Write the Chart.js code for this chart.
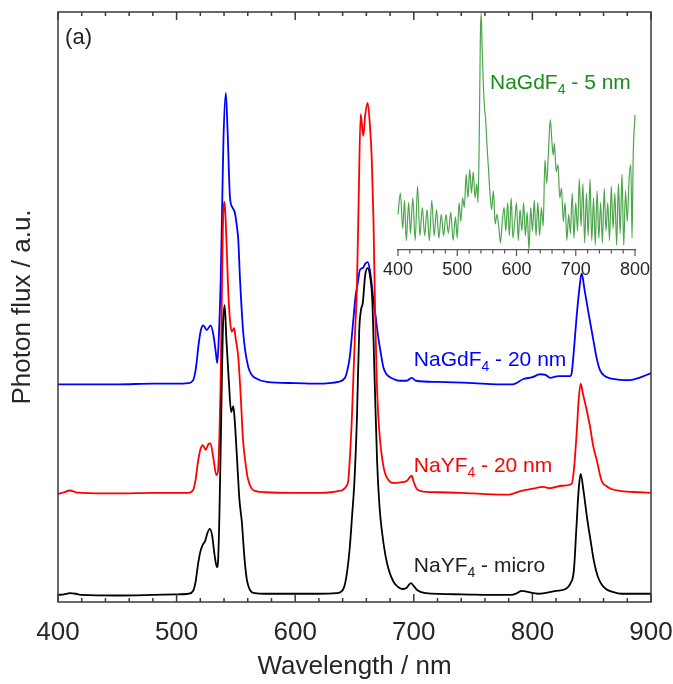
<!DOCTYPE html>
<html>
<head>
<meta charset="utf-8">
<script src="https://cdn.jsdelivr.net/npm/chart.js@4.4.0/dist/chart.umd.min.js"></script>
<style>
  html, body { margin: 0; padding: 0; background: #fff; overflow: hidden; }
  #wrap { position: relative; width: 673px; height: 684px; overflow: hidden; }
  #wrap canvas { position: absolute; left: 0; top: 0; }
</style>
</head>
<body>
<div id="wrap">
  <canvas id="spectra" width="700" height="684"></canvas>
  <canvas id="inset" width="700" height="684"></canvas>
</div>
<script>
// upconversion emission spectra, curves offset vertically
var blackNm = [400,405,410,415,420,450,480,500,510,514,516,518,520,522,524,526,528,530,532,534,535,536,537,538,539,540.5,542,544,546,547.8,549,551,553,555,557,559,562,566,575,600,620,635,640,643,646,648,650,652,654,655.5,657,659,661,663,665,667,669,671,673,676,679,683,687,691,694,697.5,700,703,710,740,770,782,787,791,796,805,820,828,832,835,837,839,840.7,843,846,849,852,855,858,862,868,875,900];
var blackFlux = [1.2,1.3,1.5,1.4,1.2,1.1,1.2,1.3,1.4,1.9,3.4,6.3,8.5,9.7,10.3,11.7,12.4,11.2,8.0,5.9,7.1,13.9,24.1,35.9,46.1,50.3,44.4,37.6,32.2,33.2,30.8,24.1,17.3,13.6,8.0,4.1,2.0,1.5,1.4,1.4,1.4,1.5,2.0,4.1,9.2,14.7,20.7,30.8,46.1,49.5,50.7,55.4,56.6,55.4,51.2,37.6,24.1,16.4,12.2,8.0,5.4,3.4,2.5,2.2,2.4,3.2,2.7,2.0,1.5,1.3,1.2,1.2,1.5,1.9,1.7,1.4,1.9,2.2,3.1,5.4,12.2,19.0,21.7,19.0,14.4,10.5,6.8,4.4,3.1,2.2,1.7,1.4,1.4];

var redNm = [400,405,410,415,420,450,480,500,510,514,516,518,520,522,524.5,527,528.5,531,533.5,535,536,537,538,539,540.5,542,543.5,545,546.5,548.4,550,552,554,556,558,560,563,567,575,600,620,630,636,640,643,644.8,646.5,647.6,649,650.5,652,653.5,655.2,657.4,659,661.1,663,664.5,666,667.3,668.7,670,671.5,673.5,675.5,678.5,682,685.6,690,694,696,698.2,700,702.4,706,720,740,760,780,790,800,809,815,825,833,835,837.3,839,840.7,842.5,845.8,848.6,851.4,854.2,858.4,862,866,875,890,900];
var redFlux = [18.3,18.6,18.9,18.6,18.5,18.4,18.5,18.5,18.5,19.0,20.7,23.7,25.8,26.6,25.8,26.8,26.9,24.4,21.5,22.4,27.5,35.9,49.5,63.1,67.8,61.4,52.9,47.8,45.8,46.4,44.4,41.5,35.1,27.5,23.7,21.0,19.3,18.8,18.6,18.5,18.5,18.6,18.8,19.0,19.6,20.7,25.8,30.3,37.8,45.9,53.0,68.0,82.7,79.0,82.5,84.6,80.8,75.4,64.7,50.0,38.0,31.7,27.5,24.1,22.0,20.7,20.2,20.2,20.3,20.5,21.0,21.4,20.3,19.2,18.8,18.6,18.5,18.3,18.2,18.8,19.2,19.5,19.3,19.7,20.0,22.4,28.6,34.2,37.0,35.4,32.5,29.7,26.3,24.1,20.5,19.7,19.2,18.8,18.6,18.5];

var blueNm = [400,420,450,480,500,510,514,516.4,518.5,520.5,522.5,525.4,528.7,531,533,534.3,535.5,537.2,538.5,539.5,541.5,543,545,547,549.2,551,552,553.5,556.2,558,560.5,563,566,576,600,620,629,636,642,644,646,649,651,652.5,654.6,657,659,661.1,663,664.5,665.9,668,670,672,674.3,677,680,688.4,694,698.2,702,720,750,770,783.4,792.4,800,806.4,811,815,822,831.7,833.1,835,837.3,839.5,841.5,844,847.1,851.4,854,857,861,865.4,872,882.3,890,900];
var blueFlux = [36.9,36.9,36.9,37.0,37.0,37.1,37.6,39.8,43.6,46.1,46.9,46.1,46.9,45.3,42.4,40.5,44.4,54.6,68.1,78.3,86.3,79.8,68.6,66.9,65.9,63.4,61.4,54.6,45.6,42.4,39.8,38.6,38.0,37.3,37.1,37.0,37.1,37.3,38.0,39.3,41.5,47.8,52.0,53.7,56.3,56.6,57.3,57.6,56.2,53.8,51.3,48.1,44.9,42.4,39.8,38.6,38.1,37.5,37.5,38.0,37.5,37.3,37.1,36.9,36.9,37.8,38.1,38.6,38.5,38.0,38.3,38.3,38.8,42.7,48.4,52.9,55.7,52.9,49.2,44.4,41.5,39.3,38.3,37.9,37.7,37.6,38.0,38.8];

// 5 nm particles, weak signal (inset)
var insetNm = [400,404,408,411,414,418,421,425,429,433,437,441,445,449,453,457,461,465,469,473,477,481,485,489,493,497,500,503,506,509,512,515,518,521,524,527,530,533,535,537,539,540.5,542,544,546,548,550,553,555,558,561,564,567,570,573,576,579,582,585,588,591,594,597,600,603,606,609,612,615,618,621,624,627,630,633,636,639,642,645,648,651,654,657,660,662,664,667,670,673,676,679,682,685,688,691,694,697,700,703,706,709,712,715,718,721,724,727,730,733,736,739,742,745,748,751,754,757,760,763,766,769,772,775,778,781,784,787,790,793,795,797,800];
var insetFlux = [15,24,9,21,4,20,7,22,4,27,6,18,6,17,4,21,6,17,5,15,6,15,7,16,4,14,5,20,12,22,18,32,22,34,24,33,22,28,20,45,90,100,85,70,60,55,45,33,25,17,25,11,15,10,3,12,18,8,20,6,22,5,12,20,4,17,8,20,6,16,0,18,8,21,6,20,6,18,10,38,28,42,55,45,40,45,33,36,22,26,12,20,4,15,7,24,5,20,8,30,10,28,3,24,6,30,4,22,2,25,5,20,3,26,8,20,4,27,9,24,2,28,7,32,2,25,12,30,36,5,40,57];

var mainTicks = [400, 500, 600, 700, 800, 900];
var insetTicks = [400, 500, 600, 700, 800];

var FONT = '"Liberation Sans", Arial, sans-serif';
Chart.defaults.font.family = FONT;

function series(nm, flux, color, width) {
  return {
    data: nm.map(function (v, i) { return { x: v, y: flux[i] }; }),
    borderColor: color,
    borderWidth: width,
    pointRadius: 0,
    fill: false,
    clip: false,
    cubicInterpolationMode: 'monotone'
  };
}

// text with a subscript, e.g. NaGdF4
function formula(ctx, parts, x, y, size, color) {
  ctx.fillStyle = color;
  ctx.textBaseline = 'alphabetic';
  ctx.textAlign = 'left';
  parts.forEach(function (p) {
    var sub = p[1];
    ctx.font = (sub ? Math.round(size * 0.68) : size) + 'px ' + FONT;
    ctx.fillText(p[0], x, sub ? y + size * 0.24 : y);
    x += ctx.measureText(p[0]).width;
  });
}

function labelFor(v, list) {
  var r = Math.round(v);
  return list.indexOf(r) >= 0 ? String(r) : '';
}

var frame = {
  id: 'frame',
  afterDatasetsDraw: function (chart) {
    var ctx = chart.ctx, a = chart.chartArea, x = chart.scales.x, y = chart.scales.y;
    ctx.save();
    ctx.strokeStyle = '#3a3a3a';
    ctx.lineWidth = 1.5;
    ctx.strokeRect(a.left, a.top, a.right - a.left, a.bottom - a.top);
    ctx.beginPath();
    x.ticks.forEach(function (t) {
      var px = x.getPixelForValue(t.value);
      var len = mainTicks.indexOf(Math.round(t.value)) >= 0 ? 8 : 4;
      ctx.moveTo(px, a.bottom); ctx.lineTo(px, a.bottom - len);
      ctx.moveTo(px, a.top); ctx.lineTo(px, a.top + len);
    });
    ctx.stroke();

    formula(ctx, [['(a)', false]], x.getPixelForValue(406), y.getPixelForValue(94.6), 22, '#222');
    formula(ctx, [['NaGdF', false], ['4', true], [' - 20 nm', false]], x.getPixelForValue(700), y.getPixelForValue(40), 21, '#0000ff');
    formula(ctx, [['NaYF', false], ['4', true], [' - 20 nm', false]], x.getPixelForValue(700), y.getPixelForValue(22.1), 21, '#ff0000');
    formula(ctx, [['NaYF', false], ['4', true], [' - micro', false]], x.getPixelForValue(700), y.getPixelForValue(5.1), 21, '#222');
    ctx.restore();
  }
};

new Chart(document.getElementById('spectra'), {
  type: 'line',
  data: {
    datasets: [
      series(blackNm, blackFlux, '#000000', 1.8),
      series(redNm, redFlux, '#ff0000', 1.8),
      series(blueNm, blueFlux, '#0000ff', 1.8)
    ]
  },
  options: {
    responsive: false,
    animation: false,
    devicePixelRatio: 1,
    layout: { padding: { left: 0, right: 49, top: 12, bottom: 0 } },
    plugins: { legend: { display: false }, tooltip: { enabled: false } },
    scales: {
      x: {
        type: 'linear', min: 400, max: 900,
        ticks: {
          stepSize: 20, autoSkip: false, maxRotation: 0, padding: 7,
          color: '#262626', font: { size: 26 },
          callback: function (v) { return labelFor(v, mainTicks); }
        },
        grid: { display: false },
        border: { display: false },
        title: { display: true, text: 'Wavelength / nm', color: '#262626', font: { size: 26 }, padding: { top: 0, bottom: 2 } },
        afterFit: function (s) { s.height = 82; }
      },
      y: {
        min: 0, max: 100,
        ticks: { display: false },
        grid: { display: false },
        border: { display: false },
        title: { display: true, text: 'Photon flux / a.u.', color: '#262626', font: { size: 26 }, padding: { top: 7, bottom: 0 } },
        afterFit: function (s) { s.width = 58; }
      }
    }
  },
  plugins: [frame]
});

var insetMarks = {
  id: 'insetMarks',
  afterDatasetsDraw: function (chart) {
    var ctx = chart.ctx, a = chart.chartArea, x = chart.scales.x, y = chart.scales.y;
    ctx.save();
    ctx.strokeStyle = '#555';
    ctx.lineWidth = 1.2;
    ctx.beginPath();
    x.ticks.forEach(function (t) {
      var px = x.getPixelForValue(t.value);
      var len = insetTicks.indexOf(Math.round(t.value)) >= 0 ? 6 : 3.5;
      ctx.moveTo(px, a.bottom); ctx.lineTo(px, a.bottom + len);
    });
    ctx.stroke();
    formula(ctx, [['NaGdF', false], ['4', true], [' - 5 nm', false]], x.getPixelForValue(555.3), y.getPixelForValue(67.9), 21, '#1a8c1a');
    ctx.restore();
  }
};

new Chart(document.getElementById('inset'), {
  type: 'line',
  data: { datasets: [series(insetNm, insetFlux, '#4da64d', 1.2)] },
  options: {
    responsive: false,
    animation: false,
    devicePixelRatio: 1,
    layout: { padding: { left: 398, right: 65, top: 13, bottom: 0 } },
    plugins: { legend: { display: false }, tooltip: { enabled: false } },
    scales: {
      x: {
        type: 'linear', min: 400, max: 800,
        ticks: {
          stepSize: 20, autoSkip: false, maxRotation: 0, padding: 9,
          color: '#262626', font: { size: 18 },
          callback: function (v) { return labelFor(v, insetTicks); }
        },
        grid: { display: true, drawOnChartArea: false, drawTicks: false },
        border: { display: true, color: '#555', width: 1.3 },
        afterFit: function (s) { s.height = 434; }
      },
      y: { display: false, min: 0, max: 100 }
    }
  },
  plugins: [insetMarks]
});
</script>
</body>
</html>
